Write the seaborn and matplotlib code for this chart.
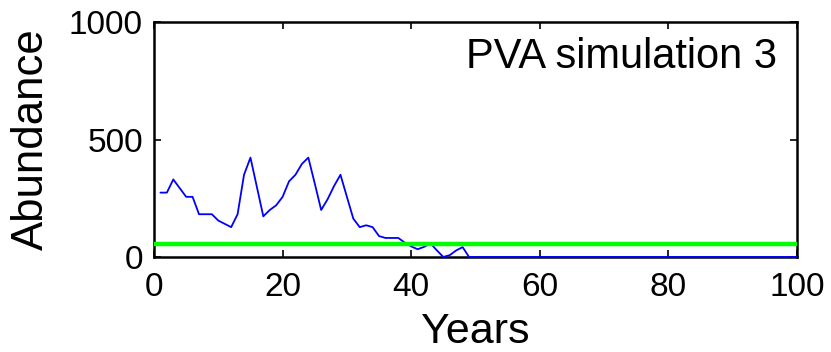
import numpy as np
import pandas as pd
import matplotlib
matplotlib.use("Agg")
import matplotlib.pyplot as plt
import seaborn as sns

# Data
years = list(range(1, 101))
abundance_head = [274, 274, 330, 293, 256, 256, 182, 182, 182, 155,
                  141, 127, 182, 350, 423, 298, 173, 200, 220, 256,
                  322, 350, 396, 423, 313, 200, 246, 302, 350, 256,
                  163, 127, 135, 127, 89, 81, 81, 81, 61, 45,
                  33, 43, 58, 28, 0, 8, 28, 42, 0]
abundance = abundance_head + [0] * (len(years) - len(abundance_head))
threshold_years = [0, 100]
threshold_values = [55, 55]
x_ticks = [0, 20, 40, 60, 80, 100]
y_ticks = [0, 500, 1000]

df = pd.DataFrame({"Years": years, "Abundance": abundance})
thr = pd.DataFrame({"Years": threshold_years, "Abundance": threshold_values})

sns.set_theme(style="white")
plt.rcParams['font.family'] = ['Liberation Sans', 'DejaVu Sans']
plt.rcParams['text.color'] = 'black'
plt.rcParams['axes.labelcolor'] = 'black'

fig = plt.figure(figsize=(8.31, 3.52), dpi=100)
ax = fig.add_axes([154 / 831, 1 - 257 / 352, (797 - 154) / 831, (257 - 22) / 352])

sns.lineplot(data=df, x="Years", y="Abundance", ax=ax, color=(0, 0, 1),
             linewidth=1.3, zorder=3, clip_on=False)
sns.lineplot(data=thr, x="Years", y="Abundance", ax=ax, color=(0, 1, 0),
             linewidth=3.2, zorder=4)

ax.set_xlim(0, 100)
ax.set_ylim(0, 1000)
ax.set_xticks(x_ticks)
ax.set_yticks(y_ticks)
ax.tick_params(direction="in", length=5, width=1.2, colors="black",
               labelsize=24, top=True, right=True, bottom=True, left=True)
ax.tick_params(axis="x", pad=11)
ax.tick_params(axis="y", pad=8)
for s in ax.spines.values():
    s.set_color("black")
    s.set_linewidth(1.8)
    s.set_visible(True)

ax.set_xlabel("Years", fontsize=31, labelpad=6, color="black")
ax.set_ylabel("Abundance", fontsize=31.5, labelpad=12, color="black")
ax.text((777 - 154) / 643, 0.804, "PVA simulation 3", transform=ax.transAxes,
        ha="right", va="baseline", fontsize=30, color="black")

fig.savefig("out.png", dpi=100)
